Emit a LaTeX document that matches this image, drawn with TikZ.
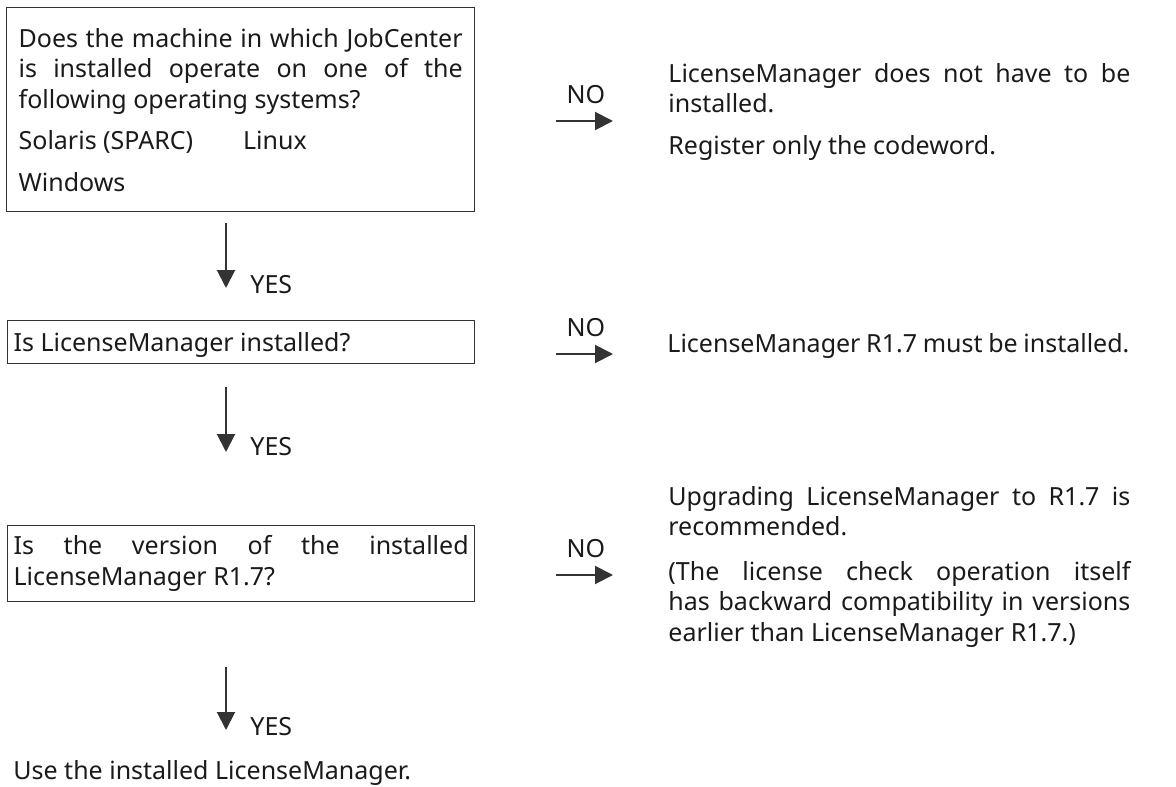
\documentclass[tikz,border=0pt]{standalone}
\usepackage{fontspec}
\setmainfont{Noto Sans}
\usetikzlibrary{positioning, arrows.meta}
\definecolor{linegray}{HTML}{333333}
\definecolor{inkblack}{HTML}{1A1A1A}

\begin{document}
\begin{tikzpicture}[x=1pt, y=-1pt, thick,
  every node/.style={text=inkblack, font=\fontsize{25}{30.5}\selectfont\setlength{\normalbaselineskip}{30.5pt}},
  question node/.style={draw=linegray, line width=1.3pt, rectangle, anchor=north west,
    align=justify, inner xsep=6pt, inner ysep=0pt, text width=455pt},
  answer node/.style={anchor=north west, align=justify, inner sep=0pt, text width=462pt},
  label node/.style={inner sep=0pt},
  flow arrow/.style={draw=linegray, line width=2pt, -{Triangle[length=18pt, width=18pt]}}]

\useasboundingbox (0,0) rectangle (1176,787);

\node[question node, inner xsep=12pt, text width=444pt, minimum height=204pt] (q1) at (6,7)
  {Does the machine in which JobCenter\linebreak is installed operate on one of the\linebreak following operating systems?\\[11pt]
   Solaris (SPARC)\hspace{50pt}Linux\\[11pt]
   Windows};
\node[question node, minimum height=43pt, text depth=0pt] (q2) at (7,320) {Is LicenseManager installed?};
\node[question node, minimum height=76pt] (q3) at (7,525)
  {Is the version of the installed\linebreak LicenseManager R1.7?};

\node[answer node] (a1) at (668,63)
  {LicenseManager does not have to be\linebreak installed.\\[11pt]
   Register only the codeword.};
\node[answer node] (a2) at (667,333) {LicenseManager R1.7 must be installed.};
\node[answer node] (a3) at (668,486)
  {Upgrading LicenseManager to R1.7 is\linebreak recommended.\\[14pt]
   (The license check operation itself\linebreak has backward compatibility in versions\linebreak earlier than LicenseManager R1.7.)};

\node[label node, anchor=base] (no1) at (586,103) {NO};
\node[label node, anchor=base] (no2) at (586,336) {NO};
\node[label node, anchor=base] (no3) at (586,557) {NO};

\node[label node, anchor=base west] (yes1) at (250,293) {YES};
\node[label node, anchor=base west] (yes2) at (250,455) {YES};
\node[label node, anchor=base west] (yes3) at (250,735) {YES};

\node[label node, anchor=base west] (use) at (13,779) {Use the installed LicenseManager.};

\coordinate (no1a) at (556,121);
\coordinate (no1b) at (613,121);
\coordinate (no2a) at (556,354);
\coordinate (no2b) at (613,354);
\coordinate (no3a) at (556,575);
\coordinate (no3b) at (613,575);
\coordinate (yes1a) at (226,223);
\coordinate (yes1b) at (226,288);
\coordinate (yes2a) at (226,387);
\coordinate (yes2b) at (226,452);
\coordinate (yes3a) at (226,667);
\coordinate (yes3b) at (226,730);

\draw[flow arrow] (no1a) -- (no1b);
\draw[flow arrow] (no2a) -- (no2b);
\draw[flow arrow] (no3a) -- (no3b);
\draw[flow arrow] (yes1a) -- (yes1b);
\draw[flow arrow] (yes2a) -- (yes2b);
\draw[flow arrow] (yes3a) -- (yes3b);

\end{tikzpicture}
\end{document}
